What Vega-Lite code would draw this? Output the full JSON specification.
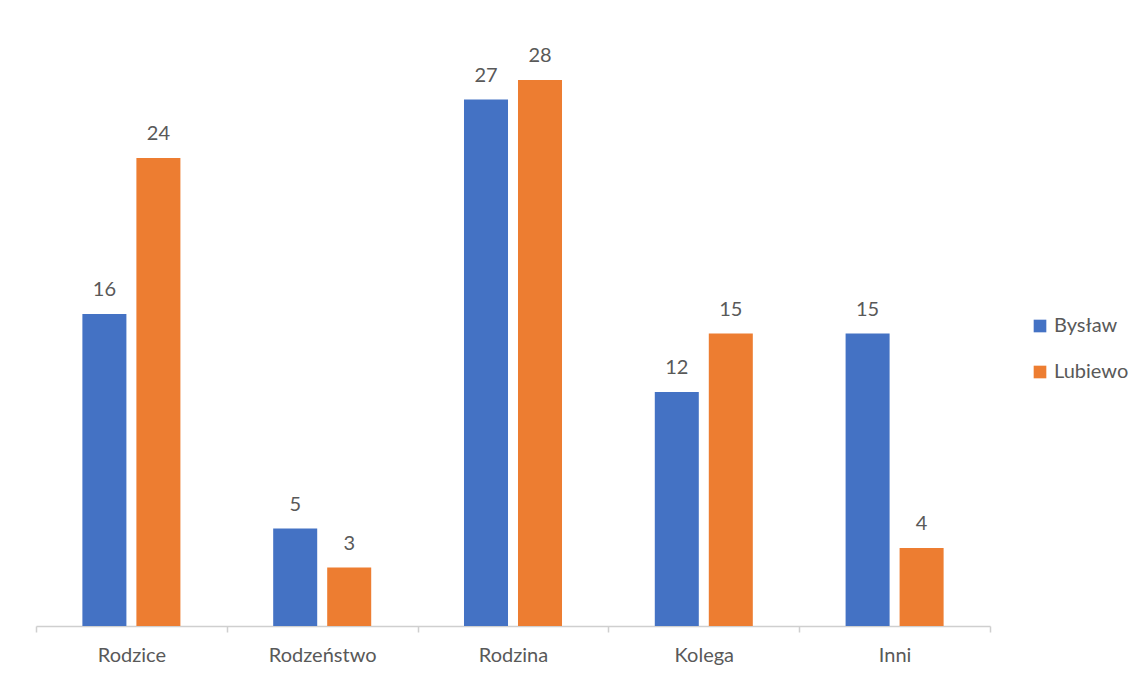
{
  "$schema": "https://vega.github.io/schema/vega-lite/v6.json",
  "autosize": {"type": "none"},
  "padding": {"left": 36, "top": 41, "right": 158, "bottom": 51},
  "width": 954,
  "height": 585,
  "background": "white",
  "config": {"view": {"stroke": null}, "font": "Lato"},
  "data": {"values": [
    {"kategoria": "Rodzice", "seria": "Bysław", "wartosc": 16},
    {"kategoria": "Rodzice", "seria": "Lubiewo", "wartosc": 24},
    {"kategoria": "Rodzeństwo", "seria": "Bysław", "wartosc": 5},
    {"kategoria": "Rodzeństwo", "seria": "Lubiewo", "wartosc": 3},
    {"kategoria": "Rodzina", "seria": "Bysław", "wartosc": 27},
    {"kategoria": "Rodzina", "seria": "Lubiewo", "wartosc": 28},
    {"kategoria": "Kolega", "seria": "Bysław", "wartosc": 12},
    {"kategoria": "Kolega", "seria": "Lubiewo", "wartosc": 15},
    {"kategoria": "Inni", "seria": "Bysław", "wartosc": 15},
    {"kategoria": "Inni", "seria": "Lubiewo", "wartosc": 4}
  ]},
  "encoding": {
    "x": {"field": "kategoria", "type": "nominal", "sort": null,
      "scale": {"paddingInner": 0, "paddingOuter": 0},
      "axis": {"title": null, "labelAngle": 0, "labelFontSize": 20, "labelColor": "#595959",
        "labelPadding": 13, "tickBand": "extent", "domainColor": "#cfcfcf", "tickColor": "#cfcfcf",
        "tickSize": 6, "domainWidth": 1.5, "tickWidth": 1.5}},
    "xOffset": {"field": "seria", "type": "nominal", "scale": {"paddingInner": 0.185, "paddingOuter": 0.859}},
    "y": {"field": "wartosc", "type": "quantitative", "scale": {"domain": [0, 30], "nice": false}, "axis": null}
  },
  "layer": [
    {
      "mark": {"type": "bar"},
      "encoding": {
        "color": {"field": "seria", "type": "nominal",
          "scale": {"domain": ["Bysław", "Lubiewo"], "range": ["#4472C4", "#ED7D31"]},
          "legend": {"title": null, "orient": "none", "legendX": 994, "legendY": 275,
            "symbolType": "square", "symbolSize": 160, "labelFontSize": 20, "labelColor": "#595959",
            "rowPadding": 26, "labelOffset": 4, "symbolStrokeWidth": 0}}
      }
    },
    {
      "mark": {"type": "text", "baseline": "bottom", "dy": -14, "fontSize": 20, "color": "#595959"},
      "encoding": {"text": {"field": "wartosc", "type": "quantitative"}}
    }
  ]
}
